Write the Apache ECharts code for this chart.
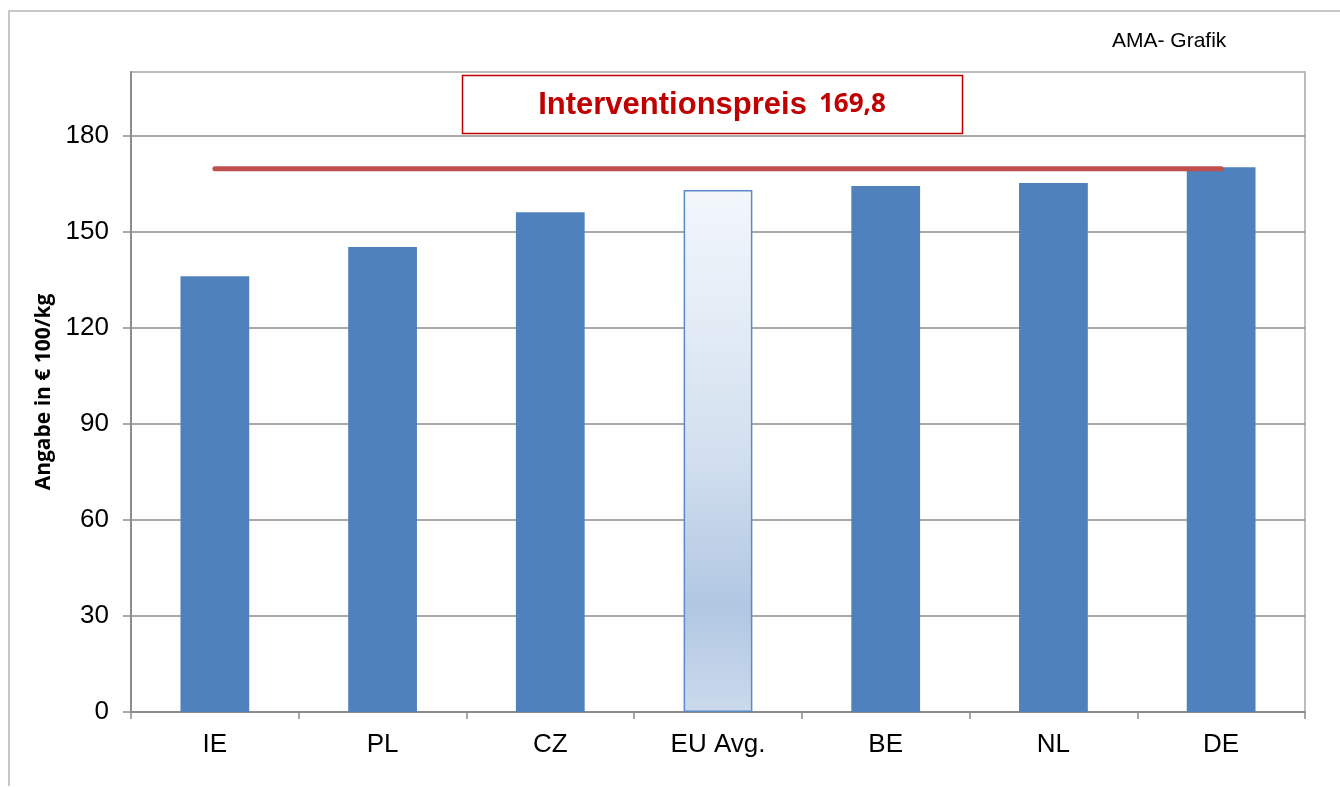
<!DOCTYPE html>
<html>
<head>
<meta charset="utf-8">
<style>
  * { margin: 0; padding: 0; }
  html, body { width: 100%; height: 100%; background: #fff; }
  #chart { width: 1340px; height: 787px; }
</style>
<script src="https://cdn.jsdelivr.net/npm/echarts@6/dist/echarts.min.js"></script>
</head>
<body>
<div id="chart"></div>
<script>
var categories = ['IE', 'PL', 'CZ', 'EU Avg.', 'BE', 'NL', 'DE']
var values = [136.2, 145.3, 156.2, 163.1, 164.4, 165.3, 170.2]
var interventionPrice = 169.8
var yTicks = [0, 30, 60, 90, 120, 150, 180]

var chart = echarts.init(document.getElementById('chart'))

var barData = values.map(function(v, i) {
  if (categories[i] === 'EU Avg.') {
    return {
      value: v,
      itemStyle: {
        color: new echarts.graphic.LinearGradient(0, 0, 0, 1, [
          { offset: 0, color: '#f3f7fc' },
          { offset: 0.5, color: '#d3e0ef' },
          { offset: 0.8, color: '#b1c7e2' },
          { offset: 1, color: '#cbdaec' }
        ]),
        borderColor: '#5b8ac6',
        borderWidth: 1.5
      }
    }
  }
  return v
})

var options = {
  animation: false,
  grid: {
    left: 131,
    right: 35,
    top: 72,
    bottom: 75,
    show: true,
    borderColor: '#a6a6a6',
    borderWidth: 1.5
  },
  xAxis: {
    type: 'category',
    data: categories,
    axisLine: { lineStyle: { color: '#8c8c8c', width: 2 } },
    axisTick: { show: true, length: 7, lineStyle: { color: '#8c8c8c', width: 1.5 } },
    axisLabel: {
      color: '#000',
      fontFamily: 'Liberation Sans',
      fontSize: 26,
      margin: 20
    }
  },
  yAxis: {
    type: 'value',
    min: 0,
    max: 200,
    interval: 30,
    name: 'Angabe in € 100/kg',
    nameLocation: 'middle',
    nameGap: 76,
    nameTextStyle: {
      color: '#000',
      fontFamily: 'Open Sans',
      fontWeight: 'bold',
      fontSize: 21
    },
    axisLine: { show: true, lineStyle: { color: '#8c8c8c', width: 2 } },
    axisTick: {
      show: true,
      length: 8,
      customValues: yTicks,
      lineStyle: { color: '#8c8c8c', width: 1.5 }
    },
    axisLabel: {
      color: '#000',
      fontFamily: 'Liberation Sans',
      fontSize: 26,
      margin: 22,
      customValues: yTicks
    },
    splitLine: { lineStyle: { color: '#8c8c8c', width: 1.5 } }
  },
  series: [
    {
      type: 'bar',
      data: barData,
      barWidth: '41%',
      itemStyle: { color: '#4f81bd' },
      z: 2
    },
    {
      type: 'line',
      data: categories.map(function() { return interventionPrice }),
      symbol: 'none',
      lineStyle: { color: '#c0504d', width: 5, cap: 'round' },
      z: 5
    }
  ],
  graphic: [
    {
      type: 'polyline',
      shape: { points: [[9, 786], [9, 11], [1340, 11]] },
      style: { stroke: '#c8c8c8', lineWidth: 2, fill: null },
      silent: true
    },
    {
      type: 'text',
      left: 1112,
      top: 31,
      style: {
        text: 'AMA- Grafik',
        fill: '#000',
        font: '21px "Liberation Sans"'
      }
    },
    {
      type: 'rect',
      shape: { x: 462.5, y: 75.5, width: 500, height: 58 },
      style: { fill: '#fff', stroke: '#c00000', lineWidth: 1.5 },
      z: 10
    },
    {
      type: 'text',
      x: 712,
      y: 105,
      z: 11,
      style: {
        text: '{a|Interventionspreis}{b|169,8}',
        align: 'center',
        verticalAlign: 'middle',
        rich: {
          a: { fill: '#c00000', font: 'bold 31px "Liberation Sans"' },
          b: { fill: '#c00000', font: 'bold 26px "Open Sans"', padding: [0, 0, 0, 12] }
        }
      }
    }
  ]
}

chart.setOption(options)
window.addEventListener('resize', () => {
  chart.resize()
}, false)
</script>
</body>
</html>
